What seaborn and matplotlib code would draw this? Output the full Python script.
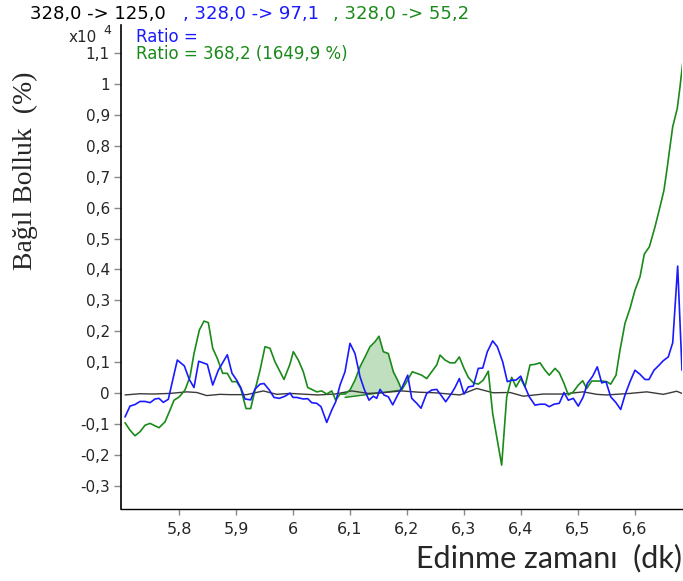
import matplotlib
matplotlib.use("Agg")
import matplotlib.pyplot as plt
from matplotlib.ticker import FuncFormatter
import numpy as np
import seaborn as sns

# values in units of 10^4 (as on the y axis)
blue_t = [5.7052, 5.7139, 5.7227, 5.7315, 5.7403, 5.7491, 5.7579, 5.7649, 5.7724, 5.7812,
          5.7970, 5.8093, 5.8181, 5.8263, 5.8346, 5.8497, 5.8592, 5.8690, 5.8848, 5.8931,
          5.9013, 5.9084, 5.9159, 5.9259, 5.9335, 5.9423, 5.9493, 5.9586, 5.9668, 5.9761,
          5.9862, 5.9949, 6.0002, 6.0067, 6.0183, 6.0260, 6.0331, 6.0418, 6.0494, 6.0594,
          6.0682, 6.0752, 6.0828, 6.0915, 6.1003, 6.1091, 6.1179, 6.1254, 6.1337, 6.1412,
          6.1472, 6.1530, 6.1600, 6.1676, 6.1753, 6.1841, 6.1922, 6.2017, 6.2087, 6.2175,
          6.2250, 6.2350, 6.2438, 6.2526, 6.2614, 6.2684, 6.2789, 6.2847, 6.2923, 6.3005,
          6.3081, 6.3169, 6.3256, 6.3334, 6.3415, 6.3509, 6.3590, 6.3685, 6.3766, 6.3843,
          6.3919, 6.4001, 6.4077, 6.4152, 6.4252, 6.4340, 6.4428, 6.4503, 6.4586, 6.4679,
          6.4762, 6.4837, 6.4925, 6.5013, 6.5100, 6.5171, 6.5266, 6.5346, 6.5424, 6.5499,
          6.5582, 6.5675, 6.5757, 6.5833, 6.5921, 6.6008, 6.6096, 6.6184, 6.6254, 6.6342,
          6.6435, 6.6506, 6.6593, 6.6671, 6.6758, 6.6834]
blue_y = [-0.077, -0.042, -0.037, -0.027, -0.027, -0.031, -0.019, -0.017, -0.030, -0.020,
          0.107, 0.088, 0.044, 0.018, 0.103, 0.093, 0.026, 0.074, 0.124, 0.064,
          0.042, 0.018, -0.019, -0.022, 0.013, 0.029, 0.031, 0.010, -0.014, -0.017,
          -0.010, 0.000, -0.014, -0.014, -0.019, -0.018, -0.031, -0.033, -0.044, -0.095,
          -0.055, -0.028, 0.026, 0.069, 0.161, 0.128, 0.053, 0.012, -0.023, -0.010,
          -0.017, 0.012, -0.006, -0.012, -0.038, -0.006, 0.020, 0.058, -0.017, -0.033,
          -0.049, -0.001, 0.010, 0.012, -0.010, -0.028, 0.000, 0.018, 0.047, -0.003,
          0.020, 0.023, 0.080, 0.081, 0.134, 0.169, 0.150, 0.101, 0.037, 0.042,
          0.042, 0.055, 0.020, -0.012, -0.039, -0.036, -0.036, -0.044, -0.036, -0.033,
          0.002, -0.023, -0.017, -0.042, -0.012, 0.031, 0.055, 0.085, 0.033, 0.037,
          -0.012, -0.031, -0.053, -0.006, 0.037, 0.074, 0.061, 0.044, 0.044, 0.074,
          0.091, 0.105, 0.117, 0.163, 0.411, 0.074]

green_t = [5.7052, 5.7139, 5.7227, 5.7315, 5.7403, 5.7491, 5.7579, 5.7649, 5.7754, 5.7842,
           5.7912, 5.8005, 5.8105, 5.8193, 5.8263, 5.8357, 5.8439, 5.8515, 5.8592, 5.8673,
           5.8767, 5.8848, 5.8931, 5.9013, 5.9084, 5.9177, 5.9259, 5.9335, 5.9423, 5.9510,
           5.9598, 5.9686, 5.9761, 5.9844, 5.9949, 6.0007, 6.0095, 6.0183, 6.0260, 6.0331,
           6.0418, 6.0506, 6.0594, 6.0682, 6.0752, 6.0828, 6.0915, 6.1003, 6.1091, 6.1179,
           6.1267, 6.1354, 6.1442, 6.1512, 6.1588, 6.1676, 6.1764, 6.1851, 6.1911, 6.1999,
           6.2097, 6.2175, 6.2262, 6.2350, 6.2438, 6.2526, 6.2584, 6.2672, 6.2759, 6.2847,
           6.2923, 6.3005, 6.3081, 6.3169, 6.3256, 6.3344, 6.3432, 6.3509, 6.3590, 6.3667,
           6.3755, 6.3843, 6.3919, 6.4001, 6.4077, 6.4164, 6.4252, 6.4340, 6.4428, 6.4503,
           6.4603, 6.4679, 6.4762, 6.4837, 6.4925, 6.5013, 6.5090, 6.5160, 6.5248, 6.5336,
           6.5424, 6.5511, 6.5582, 6.5675, 6.5745, 6.5833, 6.5921, 6.6008, 6.6096, 6.6172,
           6.6260, 6.6360, 6.6448, 6.6518, 6.6576, 6.6623, 6.6671, 6.6751, 6.6799, 6.6846]
green_y = [-0.096, -0.120, -0.138, -0.125, -0.104, -0.098, -0.106, -0.112, -0.093, -0.055,
           -0.023, -0.012, 0.010, 0.053, 0.128, 0.204, 0.233, 0.228, 0.145, 0.112,
           0.064, 0.064, 0.037, 0.037, 0.015, -0.050, -0.050, 0.010, 0.074, 0.150,
           0.145, 0.101, 0.074, 0.044, 0.094, 0.134, 0.107, 0.069, 0.018, 0.012,
           0.004, 0.007, -0.003, 0.007, -0.023, -0.003, -0.003, 0.010, 0.042, 0.085,
           0.117, 0.150, 0.166, 0.184, 0.134, 0.128, 0.069, 0.037, 0.010, 0.037,
           0.069, 0.064, 0.058, 0.047, 0.069, 0.091, 0.123, 0.107, 0.098, 0.098,
           0.117, 0.080, 0.051, 0.033, 0.029, 0.042, 0.071, -0.066, -0.152, -0.233,
           -0.012, 0.051, 0.020, 0.047, 0.020, 0.091, 0.093, 0.098, 0.074, 0.058,
           0.080, 0.066, 0.031, -0.006, 0.004, 0.026, 0.040, 0.015, 0.039, 0.039,
           0.039, 0.037, 0.029, 0.058, 0.139, 0.226, 0.274, 0.333, 0.376, 0.450,
           0.473, 0.538, 0.603, 0.657, 0.732, 0.797, 0.862, 0.921, 0.991, 1.067]

black_t = [5.7052, 5.7315, 5.7543, 5.7842, 5.8135, 5.8311, 5.8486, 5.8720, 5.8896, 5.9189,
           5.9481, 5.9716, 5.9949, 6.0441, 6.0740, 6.1033, 6.1325, 6.1618, 6.1911, 6.2203,
           6.2496, 6.2935, 6.3228, 6.3520, 6.3813, 6.4047, 6.4398, 6.4749, 6.5100, 6.5336,
           6.5511, 6.5921, 6.6214, 6.6506, 6.6741, 6.6834]
black_y = [-0.006, -0.002, -0.003, -0.001, 0.004, 0.002, -0.008, -0.004, -0.005, -0.005,
           0.007, -0.004, -0.001, -0.006, -0.003, 0.007, -0.001, 0.002, 0.007, 0.003,
           0.001, -0.006, 0.015, 0.001, 0.002, -0.010, -0.003, -0.003, 0.004, -0.004,
           -0.006, -0.001, 0.004, -0.004, 0.006, -0.001]

# integrated peak window on the green trace and its baseline
peak_t = [6.0915, 6.1911]
peak_base = [-0.014, 0.010]

x_ticks = [5.8, 5.9, 6.0, 6.1, 6.2, 6.3, 6.4, 6.5, 6.6]
y_ticks = [-0.3, -0.2, -0.1, 0, 0.1, 0.2, 0.3, 0.4, 0.5, 0.6, 0.7, 0.8, 0.9, 1.0, 1.1]

BLUE = "#1a1aff"
GREEN = "#1a8a1a"

sns.set_style("white")
plt.rcParams["font.family"] = ["DejaVu Sans"]

W, H = 683, 581
fig = plt.figure(figsize=(W / 100, H / 100), dpi=100)
ax = fig.add_axes([121 / W, 1 - 509 / H, (682 - 121) / W, (509 - 25) / H])

# shaded peak
gt = np.array(green_t)
gy = np.array(green_y)
mask = (gt >= peak_t[0]) & (gt <= peak_t[1])
base = np.interp(gt[mask], peak_t, peak_base)
ax.fill_between(gt[mask], gy[mask], base, color="#bfdfbf", lw=0)
sns.lineplot(x=peak_t, y=peak_base, ax=ax, color=GREEN, lw=1.0)

sns.lineplot(x=black_t, y=black_y, ax=ax, color="#3a3a3a", lw=1.0, sort=False)
sns.lineplot(x=green_t, y=green_y, ax=ax, color=GREEN, lw=1.2, sort=False)
sns.lineplot(x=blue_t, y=blue_y, ax=ax, color=BLUE, lw=1.2, sort=False)

ax.set_xlim(5.6981, 6.6834)
ax.set_ylim(-0.375, 1.191)
ax.set_xticks(x_ticks)
ax.set_yticks(y_ticks)
fmt = FuncFormatter(lambda v, p: f"{round(v, 1) + 0.0:g}".replace(".", ","))
ax.xaxis.set_major_formatter(fmt)
ax.yaxis.set_major_formatter(fmt)
ax.tick_params(axis="y", direction="out", length=5, width=1, color="#888888",
               labelsize=11, pad=3, left=True)
ax.tick_params(axis="x", direction="out", length=4, width=1, color="#888888",
               labelsize=11.5, pad=5, bottom=True)
sns.despine(ax=ax)
ax.spines["left"].set_color("black")
ax.spines["bottom"].set_color("black")
ax.spines["left"].set_linewidth(1.2)
ax.spines["bottom"].set_linewidth(1.0)
ax.set_xlabel("")
ax.set_ylabel("")

# header line
fig.text(30 / W, 1 - 14 / H, "328,0 -> 125,0", color="black", fontsize=13, va="center")
fig.text(183 / W, 1 - 14 / H, ", 328,0 -> 97,1", color=BLUE, fontsize=13, va="center")
fig.text(333 / W, 1 - 14 / H, ", 328,0 -> 55,2", color=GREEN, fontsize=13, va="center")

# multiplier
fig.text(97 / W, 1 - 38 / H, "x10", fontsize=11, ha="right", va="center")
fig.text(103 / W, 1 - 31 / H, "4", fontsize=9, ha="left", va="center")

# ratio labels
fig.text(136 / W, 1 - 37 / H, "Ratio =", color=BLUE, fontsize=12, va="center")
fig.text(136 / W, 1 - 54 / H, "Ratio = 368,2 (1649,9 %)", color=GREEN, fontsize=12, va="center")

# axis titles
fig.text(25 / W, 1 - 171 / H, "Bağıl Bolluk  (%)", rotation=90, fontsize=20,
         family=["Liberation Serif"], ha="center", va="center")
fig.text(682 / W, 1 - 558 / H, "Edinme zamanı  (dk)", fontsize=22,
         family=["Lato", "DejaVu Sans"], ha="right", va="center")

fig.savefig("out.png", dpi=100)
